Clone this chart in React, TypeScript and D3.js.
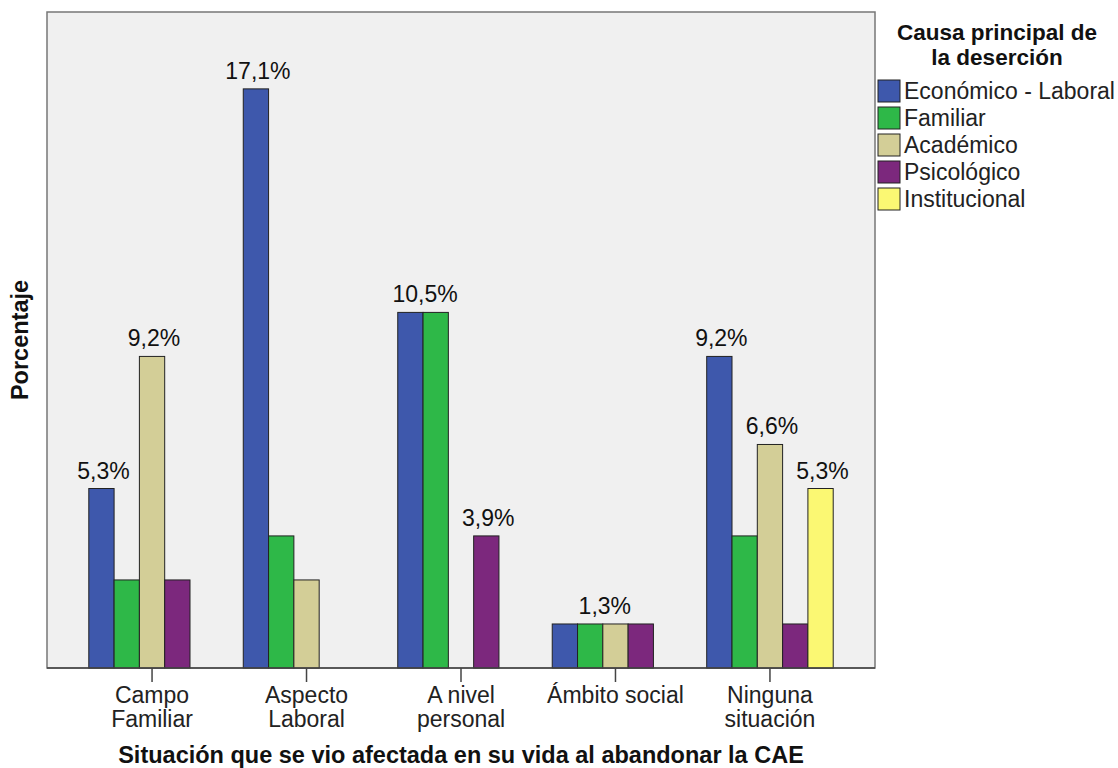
import * as d3 from 'd3';

const categories = [
  ['Campo', 'Familiar'],
  ['Aspecto', 'Laboral'],
  ['A nivel', 'personal'],
  ['Ámbito social'],
  ['Ninguna', 'situación'],
];
const series = ['Económico - Laboral', 'Familiar', 'Académico', 'Psicológico', 'Institucional'];
const colors = ['#3e58ac', '#2eb848', '#d3ce97', '#7c287d', '#fbf873'];

// percentages per series, one value per category (null = no bar)
const economico = [5.3, 17.1, 10.5, 1.3, 9.2];
const familiar = [2.6, 3.9, 10.5, 1.3, 3.9];
const academico = [9.2, 2.6, null, 1.3, 6.6];
const psicologico = [2.6, null, 3.9, 1.3, 1.3];
const institucional = [null, null, null, null, 5.3];
const values = [economico, familiar, academico, psicologico, institucional];

// labels shown: category index, first and last series index covered, value
const labelSpans = [
  { cat: 0, from: 0, to: 0, value: 5.3 },
  { cat: 0, from: 2, to: 2, value: 9.2 },
  { cat: 1, from: 0, to: 0, value: 17.1 },
  { cat: 2, from: 0, to: 1, value: 10.5 },
  { cat: 2, from: 3, to: 3, value: 3.9 },
  { cat: 3, from: 0, to: 3, value: 1.3 },
  { cat: 4, from: 0, to: 0, value: 9.2 },
  { cat: 4, from: 2, to: 2, value: 6.6 },
  { cat: 4, from: 4, to: 4, value: 5.3 },
];

const yMax = 19.37;

const W = 1118;
const H = 768;
const left = 47;
const right = 875;
const top = 12;
const bottom = 668;
const font = '"Liberation Sans", Arial, sans-serif';
const fs = 23;
const fsBold = 23.5;

export default function App() {
  const x = d3
    .scalePoint<number>()
    .domain(d3.range(categories.length))
    .range([left, right])
    .padding(0.68);
  const groupW = 126.5;
  const xs = d3
    .scaleBand<number>()
    .domain(d3.range(series.length))
    .range([-groupW / 2, groupW / 2]);
  const y = d3.scaleLinear([0, yMax], [bottom, top]);
  const fmt = (v: number) => v.toFixed(1).replace('.', ',') + '%';

  return (
    <svg
      width={W}
      height={H}
      style={{ position: 'absolute', left: 0, top: 0, background: '#fff' }}
      fontFamily={font}
    >
      <rect x={left} y={top} width={right - left} height={bottom - top} fill="#f0f0f0" stroke="#777" strokeWidth={1.5} />

      {values.map((vals, s) =>
        vals.map((v, c) =>
          v == null ? null : (
            <rect
              key={`${s}-${c}`}
              x={x(c)! + xs(s)!}
              y={y(v)}
              width={xs.bandwidth()}
              height={bottom - y(v)}
              fill={colors[s]}
              stroke="#222"
              strokeWidth={1}
            />
          ),
        ),
      )}

      <line x1={left} x2={right} y1={bottom} y2={bottom} stroke="#444" strokeWidth={1.5} />

      {labelSpans.map((l, i) => {
        const cx = x(l.cat)! + (xs(l.from)! + xs(l.to)! + xs.bandwidth()) / 2 + 2;
        return (
          <text key={i} x={cx} y={y(l.value) - 10} textAnchor="middle" fontSize={fs} fill="#111">
            {fmt(l.value)}
          </text>
        );
      })}

      {categories.map((lines, c) => (
        <g key={c} transform={`translate(${x(c)},0)`}>
          <line y1={bottom} y2={bottom + 14} stroke="#444" strokeWidth={1.5} />
          {lines.map((t, k) => (
            <text key={k} y={703 + k * 24} textAnchor="middle" fontSize={fs} fill="#222">
              {t}
            </text>
          ))}
        </g>
      ))}

      <text x={(left + right) / 2} y={763} textAnchor="middle" fontSize={fsBold} fontWeight="bold" fill="#111">
        Situación que se vio afectada en su vida al abandonar la CAE
      </text>
      <text
        transform={`translate(28,${(top + bottom) / 2}) rotate(-90)`}
        textAnchor="middle"
        fontSize={fsBold}
        fontWeight="bold"
        fill="#111"
      >
        Porcentaje
      </text>

      <g>
        <text x={997} y={39.5} textAnchor="middle" fontSize={22.5} fontWeight="bold" fill="#111">
          Causa principal de
        </text>
        <text x={997} y={64.5} textAnchor="middle" fontSize={22.5} fontWeight="bold" fill="#111">
          la deserción
        </text>
        {series.map((s, i) => (
          <g key={s} transform={`translate(878,${80 + i * 27})`}>
            <rect width={22} height={22} fill={colors[i]} stroke="#222" strokeWidth={1} />
            <text x={26} y={19} fontSize={fs} fill="#222">
              {s}
            </text>
          </g>
        ))}
      </g>
    </svg>
  );
}
